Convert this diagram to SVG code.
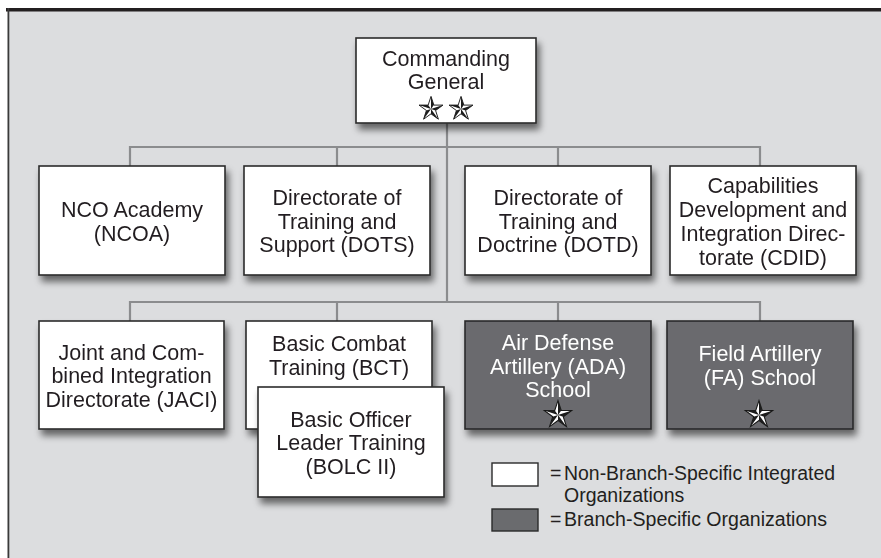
<svg xmlns="http://www.w3.org/2000/svg" xmlns:xlink="http://www.w3.org/1999/xlink" width="881" height="558" viewBox="0 0 881 558">
  <defs>
    <filter id="shadow" x="-20%" y="-20%" width="150%" height="160%">
      <feGaussianBlur in="SourceAlpha" stdDeviation="3.5"/>
      <feOffset dx="3" dy="6" result="b"/>
      <feComponentTransfer><feFuncA type="linear" slope="0.55"/></feComponentTransfer>
      <feMerge><feMergeNode/><feMergeNode in="SourceGraphic"/></feMerge>
    </filter>
    <g id="star">
      <path d="M0,-12 L2.70,-3.72 L11.41,-3.71 L4.37,1.42 L7.05,9.71 L0,4.6 L-7.05,9.71 L-4.37,1.42 L-11.41,-3.71 L-2.70,-3.72 Z" fill="#ffffff" stroke="#1a1a1a" stroke-width="0.9" stroke-linejoin="miter"/>
      <path d="M0,0 L0,-12 L2.70,-3.72 Z M0,0 L11.41,-3.71 L4.37,1.42 Z M0,0 L7.05,9.71 L0,4.6 Z M0,0 L-7.05,9.71 L-4.37,1.42 Z M0,0 L-11.41,-3.71 L-2.70,-3.72 Z" fill="#1a1a1a"/>
    </g>
    <style>
      .box { fill: #ffffff; stroke: #2a2a2a; stroke-width: 1.6; }
      .dbox { fill: #6a6b6e; stroke: #2a2a2a; stroke-width: 1.6; }
      .t { font-family: "Liberation Sans", Arial, Helvetica, sans-serif; font-size: 21.5px; fill: #231f20; text-anchor: middle; }
      .tw { font-family: "Liberation Sans", Arial, Helvetica, sans-serif; font-size: 21.5px; fill: #ffffff; text-anchor: middle; }
      .lg { font-family: "Liberation Sans", Arial, Helvetica, sans-serif; font-size: 19.5px; fill: #231f20; }
      .conn { fill: none; stroke: #8b8c8e; stroke-width: 2.2; }
    </style>
  </defs>

  <!-- page -->
  <rect x="0" y="0" width="881" height="558" fill="#ffffff"/>
  <rect x="8" y="9" width="873" height="549" fill="#dcdddf"/>
  <rect x="6" y="8" width="875" height="3.5" fill="#231f20"/>
  <rect x="7.5" y="8" width="1.8" height="550" fill="#3a3a3a"/>

  <!-- connectors -->
  <g id="connectors" class="conn">
    <path d="M447,123 V302"/>
    <path d="M130,166 V147 H760 V166"/>
    <path d="M337,147 V166"/>
    <path d="M558,147 V166"/>
    <path d="M130,321 V302 H760 V321"/>
    <path d="M337,302 V321"/>
    <path d="M558,302 V321"/>
  </g>

  <!-- Commanding General -->
  <g id="cg" filter="url(#shadow)">
    <rect class="box" x="356" y="38" width="180" height="85"/>
    <text class="t" x="446" y="65.5">Commanding</text>
    <text class="t" x="446" y="89">General</text>
    <use xlink:href="#star" href="#star" transform="translate(431,109) scale(1.05)"/>
    <use xlink:href="#star" href="#star" transform="translate(461,109) scale(1.05)"/>
  </g>

  <!-- Row 2 -->
  <g id="ncoa" filter="url(#shadow)">
    <rect class="box" x="39" y="166" width="186" height="109"/>
    <text class="t" x="132" y="217">NCO Academy</text>
    <text class="t" x="132" y="240.5">(NCOA)</text>
  </g>
  <g id="dots" filter="url(#shadow)">
    <rect class="box" x="244" y="166" width="186" height="109"/>
    <text class="t" x="337" y="205">Directorate of</text>
    <text class="t" x="337" y="228.5">Training and</text>
    <text class="t" x="337" y="252">Support (DOTS)</text>
  </g>
  <g id="dotd" filter="url(#shadow)">
    <rect class="box" x="465" y="166" width="186" height="109"/>
    <text class="t" x="558" y="205">Directorate of</text>
    <text class="t" x="558" y="228.5">Training and</text>
    <text class="t" x="558" y="252">Doctrine (DOTD)</text>
  </g>
  <g id="cdid" filter="url(#shadow)">
    <rect class="box" x="670" y="166" width="186" height="109"/>
    <text class="t" x="763" y="192.5">Capabilities</text>
    <text class="t" x="763" y="216.5">Development and</text>
    <text class="t" x="763" y="240.5">Integration Direc-</text>
    <text class="t" x="763" y="264.5">torate (CDID)</text>
  </g>

  <!-- Row 3 -->
  <g id="jaci" filter="url(#shadow)">
    <rect class="box" x="39" y="321" width="185" height="108"/>
    <text class="t" x="131.5" y="359.5">Joint and Com-</text>
    <text class="t" x="131.5" y="383">bined Integration</text>
    <text class="t" x="131.5" y="406.5">Directorate (JACI)</text>
  </g>
  <g id="bct" filter="url(#shadow)">
    <rect class="box" x="246" y="321" width="186" height="108"/>
    <text class="t" x="339" y="351">Basic Combat</text>
    <text class="t" x="339" y="374.5">Training (BCT)</text>
  </g>
  <g id="bolc" filter="url(#shadow)">
    <rect class="box" x="258" y="387" width="186" height="110"/>
    <text class="t" x="351" y="426.5">Basic Officer</text>
    <text class="t" x="351" y="450">Leader Training</text>
    <text class="t" x="351" y="473.5">(BOLC II)</text>
  </g>
  <g id="ada" filter="url(#shadow)">
    <rect class="dbox" x="465" y="321" width="186" height="108"/>
    <text class="tw" x="558" y="350">Air Defense</text>
    <text class="tw" x="558" y="373.5">Artillery (ADA)</text>
    <text class="tw" x="558" y="397">School</text>
    <use xlink:href="#star" href="#star" transform="translate(558,415) scale(1.2)"/>
  </g>
  <g id="fa" filter="url(#shadow)">
    <rect class="dbox" x="667" y="321" width="186" height="108"/>
    <text class="tw" x="760" y="361">Field Artillery</text>
    <text class="tw" x="760" y="385">(FA) School</text>
    <use xlink:href="#star" href="#star" transform="translate(759,415) scale(1.2)"/>
  </g>

  <!-- Legend -->
  <g id="legend">
    <rect x="492" y="463" width="46" height="23" fill="#ffffff" stroke="#2a2a2a" stroke-width="1.4"/>
    <text class="lg" x="550" y="480">=</text>
    <text class="lg" x="564" y="480" textLength="271" lengthAdjust="spacingAndGlyphs">Non-Branch-Specific Integrated</text>
    <text class="lg" x="564" y="502">Organizations</text>
    <rect x="492" y="509" width="46" height="22" fill="#6a6b6e" stroke="#2a2a2a" stroke-width="1.4"/>
    <text class="lg" x="550" y="526">=</text>
    <text class="lg" x="564" y="526" textLength="263" lengthAdjust="spacingAndGlyphs">Branch-Specific Organizations</text>
  </g>
</svg>
